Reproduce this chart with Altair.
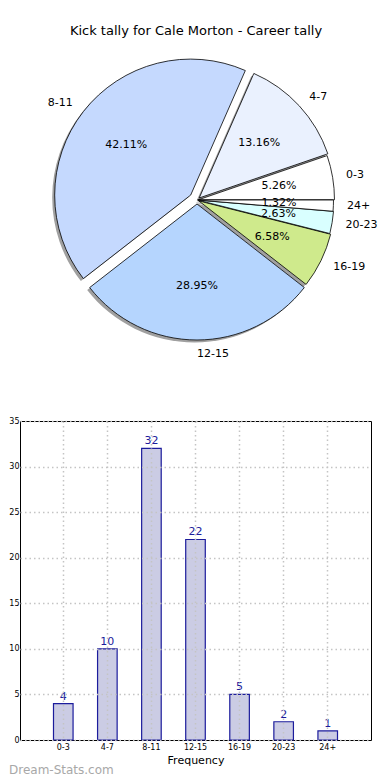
import math
import altair as alt
import pandas as pd

# ---------------- data ----------------
TITLE = "Kick tally for Cale Morton - Career tally"
cats = ["0-3", "4-7", "8-11", "12-15", "16-19", "20-23", "24+"]
counts = [4, 10, 32, 22, 5, 2, 1]
slice_colors = ["#ffffff", "#eaf1fe", "#c5d9fe", "#b5d5fe", "#cfea8c", "#d9ffff", "#ffffff"]
pie_order = [6, 5, 4, 3, 2, 1, 0]      # clockwise from 3 o'clock
explode_px = [1.5, 3, 8, 4, 2, 1, 0.5]  # pull-out of each wedge (style)
y_ticks = [0, 5, 10, 15, 20, 25, 30, 35]
WATERMARK = "Dream-Stats.com"

total = sum(counts)
df = pd.DataFrame({"cat": cats, "count": counts, "ord": pie_order})

FONT = "DejaVu Sans"
R = 136
CX, CY = 177, 191
SH_DX, SH_DY = -2.5, 2.5

theta_scale = alt.Scale(domain=[0, total], range=[math.pi / 2, math.pi / 2 + 2 * math.pi])
color_scale = alt.Scale(domain=cats, range=slice_colors)

pie_base = (
    alt.Chart(df)
    .transform_window(end="sum(count)", sort=[alt.SortField("ord", order="ascending")], frame=[None, 0])
    .transform_calculate(start="datum.end - datum.count")
    .transform_calculate(mid="(datum.start + datum.end) / 2")
    .transform_calculate(pct=f"format(100 * datum.count / {total}, '.2f') + '%'")
)


def wedge_center(i):
    # counter-clockwise from 3 o'clock (matplotlib convention) direction of wedge i
    before = sum(counts[:i])
    ang = 2 * math.pi * (before + counts[i] / 2) / total
    d = explode_px[i]
    return CX + d * math.cos(ang), CY - d * math.sin(ang), math.cos(ang)


shadows, wedges, pcts, labels = [], [], [], []
for i, c in enumerate(cats):
    cx, cy, cosa = wedge_center(i)
    ch = pie_base.transform_filter(f"datum.cat == '{c}'")
    shadows.append(ch.mark_arc(radius=R, fill="#a0a0a0").encode(
        theta=alt.Theta("start:Q", scale=theta_scale, stack=False),
        theta2="end:Q",
        x=alt.value(cx + SH_DX),
        y=alt.value(cy + SH_DY),
    ))
    wedges.append(ch.mark_arc(radius=R, stroke="black", strokeWidth=0.8).encode(
        theta=alt.Theta("start:Q", scale=theta_scale, stack=False),
        theta2="end:Q",
        color=alt.Color("cat:N", scale=color_scale, legend=None),
        x=alt.value(cx),
        y=alt.value(cy),
    ))
    pcts.append(ch.mark_text(radius=R * 0.6, fontSize=11, font=FONT, color="black").encode(
        theta=alt.Theta("mid:Q", scale=theta_scale, stack=False),
        text="pct:N",
        x=alt.value(cx),
        y=alt.value(cy),
    ))
    labels.append(ch.mark_text(radius=R * 1.1, fontSize=11, font=FONT, color="black",
                               align="left" if cosa >= -1e-6 else "right", baseline="middle").encode(
        theta=alt.Theta("mid:Q", scale=theta_scale, stack=False),
        text="cat:N",
        x=alt.value(cx),
        y=alt.value(cy),
    ))

title_df = pd.DataFrame({"t": [TITLE]})
title = alt.Chart(title_df).mark_text(fontSize=13, font=FONT, color="black").encode(
    text="t:N", x=alt.value(176), y=alt.value(22)
)

pie = alt.layer(*shadows, *wedges, *pcts, *labels, title).properties(
    width=351, height=400, view=alt.ViewBackground(stroke="transparent")
)

# ---------------- bar chart ----------------
bar_df = pd.DataFrame({"cat": cats, "count": counts})
NAVY = "#1c1c9c"
BW, BH = 351, 319

bars = alt.Chart(bar_df).mark_bar(fill="#cbcce4", stroke=NAVY, strokeWidth=1.2).encode(
    x=alt.X(
        "cat:N",
        sort=cats,
        scale=alt.Scale(paddingInner=0.556, paddingOuter=0.76),
        axis=alt.Axis(
            title="Frequency", labelAngle=0, bandPosition=0.5, grid=True,
            gridDash=[1.5, 3], gridColor="#c4c4c4", gridWidth=1.5,
            domain=False, ticks=False, labelFontSize=8, labelPadding=3,
            titleFontSize=11, titleFontWeight="normal", titlePadding=3,
            labelColor="black", titleColor="black", zindex=1, minExtent=0,
        ),
    ),
    y=alt.Y(
        "count:Q",
        scale=alt.Scale(domain=[0, 35]),
        axis=alt.Axis(
            title=None, values=y_ticks, grid=True,
            gridDash=[1.5, 3], gridColor="#c4c4c4", gridWidth=1.5,
            domain=False, ticks=False, labelFontSize=8, labelPadding=1,
            labelColor="black", zindex=1, minExtent=0,
        ),
    ),
)

values = alt.Chart(bar_df).mark_text(
    fontSize=11, font=FONT, color=NAVY, baseline="bottom", dy=-2
).encode(x=alt.X("cat:N", sort=cats), y="count:Q", text="count:Q")

wm_df = pd.DataFrame({"t": [WATERMARK]})
watermark = alt.Chart(wm_df).mark_text(
    fontSize=12, font=FONT, color="#a8a8a8", align="left", baseline="middle"
).encode(text="t:N", x=alt.value(-11), y=alt.value(BH + 30))

barchart = alt.layer(bars, values, watermark).properties(width=BW, height=BH)

chart = (
    alt.vconcat(pie, barchart, spacing=6)
    .properties(padding=0)
    .configure(font=FONT)
    .configure_view(stroke="black", strokeWidth=1)
)

chart.save("out.html", embed_options={"renderer": "svg", "actions": False})
